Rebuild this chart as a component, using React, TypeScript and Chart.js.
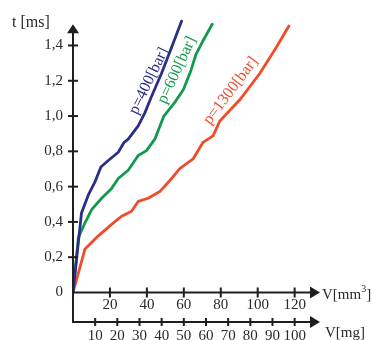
import React, { useEffect, useRef } from 'react';
import { Chart, registerables } from 'chart.js';

Chart.register(...registerables);

// ---- data ----
const volumeTicks = [20, 40, 60, 80, 100, 120];
const massTicks = [10, 20, 30, 40, 50, 60, 70, 80, 90, 100];
const timeTicks = [0, 0.2, 0.4, 0.6, 0.8, 1.0, 1.2, 1.4];

const p400V = [0, 4.6, 8.3, 11.9, 15.1, 19.1, 24.5, 27.7, 29.9, 35.3, 38.9, 42.5, 47.9, 53.4, 58.8];
const p400T = [0, 0.451, 0.553, 0.627, 0.711, 0.748, 0.795, 0.851, 0.869, 0.944, 1.018, 1.111, 1.241, 1.39, 1.538];

const p600V = [0, 2.9, 6.5, 10.1, 15.5, 20.9, 24.5, 29.9, 35.3, 39.8, 44.3, 49.2, 54.6, 59.8, 63.9, 66.6, 70.3, 75.4];
const p600T = [0, 0.311, 0.395, 0.47, 0.534, 0.59, 0.646, 0.693, 0.776, 0.804, 0.869, 1.0, 1.07, 1.15, 1.26, 1.35, 1.425, 1.52];

const p1300V = [0, 6.5, 13.7, 20.9, 26.3, 31.7, 35.3, 40.7, 47.0, 53.4, 57.8, 65.0, 70.4, 75.8, 79.5, 90.3, 101.1, 110.1, 116.9];
const p1300T = [0, 0.247, 0.321, 0.386, 0.432, 0.46, 0.516, 0.534, 0.572, 0.646, 0.702, 0.757, 0.851, 0.888, 0.972, 1.092, 1.241, 1.39, 1.51];

const seriesNames = ['p=400[bar]', 'p=600[bar]', 'p=1300[bar]'];
const seriesColors = ['#2b2e85', '#12994c', '#f04b2b'];
// label anchors in data units (V, t) and rotation in degrees
const labelV = [41.1, 56.3, 85.4];
const labelT = [1.199, 1.26, 1.143];
const labelAngle = [-64, -65, -53];

const X_MAX = 134;
const MG_PER_MM3 = 1 / 1.2;
const Y_MAX = 1.55;

const FONT = '"Liberation Serif", "Times New Roman", serif';
const AXIS = '#1e1e1e';
const TEXT = '#2a2a2a';

const toPoints = (xs: number[], ys: number[]) => xs.map((x, i) => ({ x, y: ys[i] }));

export default function App() {
  const ref = useRef<HTMLCanvasElement>(null);

  useEffect(() => {
    const canvas = ref.current;
    if (!canvas) return;

    const axesPlugin = {
      id: 'customAxes',
      afterDatasetsDraw(chart: any) {
        const ctx = chart.ctx as CanvasRenderingContext2D;
        const xs = chart.scales.x;
        const x2 = chart.scales.x2;
        const ys = chart.scales.y;
        const x0 = xs.getPixelForValue(0);
        const y0 = ys.getPixelForValue(0);
        const yTip = ys.getPixelForValue(1.52);
        const xTip = xs.getPixelForValue(X_MAX) - 0.5;
        const yMg = x2.top;

        ctx.save();
        ctx.strokeStyle = AXIS;
        ctx.fillStyle = AXIS;
        ctx.lineWidth = 2;
        ctx.lineCap = 'butt';

        const seg = (a: number, b: number, c: number, d: number) => {
          ctx.beginPath();
          ctx.moveTo(a, b);
          ctx.lineTo(c, d);
          ctx.stroke();
        };

        // y axis
        seg(x0, yMg + 1, x0, yTip + 6);
        ctx.beginPath();
        ctx.moveTo(x0, yTip);
        ctx.lineTo(x0 - 6, yTip + 9);
        ctx.lineTo(x0 + 6, yTip + 9);
        ctx.closePath();
        ctx.fill();
        timeTicks.forEach((t) => {
          if (t === 0) return;
          const py = ys.getPixelForValue(t);
          seg(x0 - 5, py, x0 + 5, py);
        });

        // x axes
        const hAxis = (py: number, ticks: number[], scale: any, half: number) => {
          seg(x0 - 1, py, xTip - 6, py);
          ctx.beginPath();
          ctx.moveTo(xTip, py);
          ctx.lineTo(xTip - 10, py - 6);
          ctx.lineTo(xTip - 10, py + 6);
          ctx.closePath();
          ctx.fill();
          ticks.forEach((v) => {
            const px = scale.getPixelForValue(v);
            seg(px, py - half, px, py + half);
          });
        };
        hAxis(y0, volumeTicks, xs, 5);
        hAxis(yMg, massTicks, x2, 4);

        // axis titles
        ctx.fillStyle = TEXT;
        ctx.textBaseline = 'middle';
        ctx.textAlign = 'left';
        ctx.font = `16px ${FONT}`;
        ctx.fillText('t [ms]', 12, 23);

        ctx.font = `15px ${FONT}`;
        let tx = xTip + 2;
        const ty = y0 + 3;
        ctx.fillText('V[mm', tx, ty);
        tx += ctx.measureText('V[mm').width;
        ctx.font = `10px ${FONT}`;
        ctx.fillText('3', tx, ty - 6);
        tx += ctx.measureText('3').width;
        ctx.font = `15px ${FONT}`;
        ctx.fillText(']', tx, ty);

        ctx.fillText('V[mg]', xTip + 5, yMg + 11);

        // curve labels
        ctx.font = `16px ${FONT}`;
        ctx.textAlign = 'center';
        seriesNames.forEach((name, i) => {
          const px = xs.getPixelForValue(labelV[i]);
          const py = ys.getPixelForValue(labelT[i]);
          ctx.save();
          ctx.translate(px, py);
          ctx.rotate((labelAngle[i] * Math.PI) / 180);
          ctx.fillStyle = seriesColors[i];
          ctx.fillText(name, 0, 0);
          ctx.restore();
        });

        ctx.restore();
      },
    };

    const tickFont = { family: FONT, size: 15 };

    const chart = new Chart(canvas, {
      type: 'scatter',
      data: {
        datasets: [
          { label: seriesNames[0], data: toPoints(p400V, p400T) },
          { label: seriesNames[1], data: toPoints(p600V, p600T) },
          { label: seriesNames[2], data: toPoints(p1300V, p1300T) },
        ].map((d, i) => ({
          ...d,
          showLine: true,
          borderColor: seriesColors[i],
          backgroundColor: seriesColors[i],
          borderWidth: 2.8,
          pointRadius: 0,
          pointHoverRadius: 0,
          tension: 0,
          borderJoinStyle: 'round' as const,
          borderCapStyle: 'round' as const,
        })),
      },
      options: {
        responsive: false,
        animation: false,
        devicePixelRatio: 1,
        layout: { padding: { left: 0, right: 51.5, top: 14.6, bottom: 0 } },
        plugins: {
          legend: { display: false },
          tooltip: { enabled: false },
        },
        scales: {
          x: {
            type: 'linear',
            position: 'bottom',
            weight: 0,
            min: 0,
            max: X_MAX,
            grid: { display: false, drawTicks: false },
            border: { display: false },
            afterBuildTicks: (s: any) => {
              s.ticks = volumeTicks.map((v) => ({ value: v }));
            },
            afterFit: (s: any) => {
              s.height = 29.5;
            },
            ticks: {
              font: tickFont,
              color: TEXT,
              padding: 4,
              maxRotation: 0,
              autoSkip: false,
              callback: (v: any) => String(v),
            },
          },
          x2: {
            type: 'linear',
            position: 'bottom',
            weight: 1,
            min: 0,
            max: X_MAX * MG_PER_MM3,
            grid: { display: false, drawTicks: false },
            border: { display: false },
            afterBuildTicks: (s: any) => {
              s.ticks = massTicks.map((v) => ({ value: v }));
            },
            afterFit: (s: any) => {
              s.height = 18;
            },
            ticks: {
              font: tickFont,
              color: TEXT,
              padding: 5,
              maxRotation: 0,
              autoSkip: false,
              callback: (v: any) => String(v),
            },
          },
          y: {
            type: 'linear',
            position: 'left',
            min: 0,
            max: Y_MAX,
            grid: { display: false, drawTicks: false },
            border: { display: false },
            afterBuildTicks: (s: any) => {
              s.ticks = timeTicks.map((v) => ({ value: v }));
            },
            afterFit: (s: any) => {
              s.width = 73;
            },
            ticks: {
              font: tickFont,
              color: TEXT,
              padding: 10,
              autoSkip: false,
              callback: (v: any) => (Number(v) === 0 ? '0' : Number(v).toFixed(1).replace('.', ',')),
            },
          },
        },
      } as any,
      plugins: [axesPlugin],
    });

    return () => chart.destroy();
  }, []);

  return (
    <div style={{ position: 'fixed', left: 0, top: 0, width: 372, height: 340, background: '#ffffff' }}>
      <canvas ref={ref} width={372} height={340} style={{ display: 'block', width: 372, height: 340 }} />
    </div>
  );
}
